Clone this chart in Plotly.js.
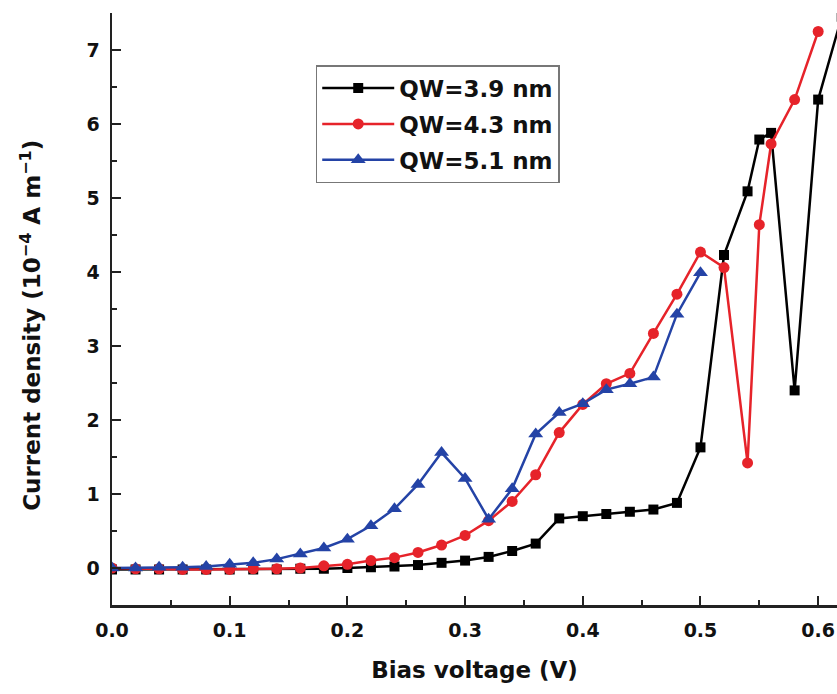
<!DOCTYPE html>
<html>
<head>
<meta charset="utf-8">
<script src="https://cdn.plot.ly/plotly-3.0.1.min.js"></script>
<style>html,body{margin:0;padding:0;background:#fff;}#chart{width:837px;height:694px;}</style>
</head>
<body>
<div id="chart"></div>
<script>
// Bias voltage (V) and current density (10^-4 A m^-1)
const xBlack = [0.00,0.02,0.04,0.06,0.08,0.10,0.12,0.14,0.16,0.18,0.20,0.22,0.24,0.26,0.28,0.30,0.32,0.34,0.36,0.38,0.40,0.42,0.44,0.46,0.48,0.50,0.52,0.54,0.55,0.56,0.58,0.60,0.62];
const yBlack = [-0.02,-0.02,-0.02,-0.02,-0.02,-0.02,-0.02,-0.02,-0.01,-0.01,0.00,0.01,0.02,0.04,0.07,0.10,0.15,0.23,0.33,0.67,0.70,0.73,0.76,0.79,0.88,1.63,4.23,5.09,5.79,5.88,2.40,6.33,7.45];

const xRed = [0.00,0.02,0.04,0.06,0.08,0.10,0.12,0.14,0.16,0.18,0.20,0.22,0.24,0.26,0.28,0.30,0.32,0.34,0.36,0.38,0.40,0.42,0.44,0.46,0.48,0.50,0.52,0.54,0.55,0.56,0.58,0.60];
const yRed = [0.00,-0.01,-0.01,-0.02,-0.02,-0.02,-0.01,-0.01,0.00,0.03,0.05,0.10,0.14,0.21,0.31,0.44,0.64,0.90,1.26,1.83,2.21,2.49,2.63,3.17,3.70,4.27,4.06,1.42,4.64,5.73,6.33,7.25];

const xBlue = [0.00,0.02,0.04,0.06,0.08,0.10,0.12,0.14,0.16,0.18,0.20,0.22,0.24,0.26,0.28,0.30,0.32,0.34,0.36,0.38,0.40,0.42,0.44,0.46,0.48,0.50];
const yBlue = [0.00,0.00,0.01,0.01,0.02,0.05,0.07,0.12,0.19,0.27,0.39,0.57,0.80,1.13,1.56,1.21,0.66,1.07,1.81,2.10,2.22,2.41,2.49,2.58,3.43,3.99];

const seriesNames = ["QW=3.9 nm","QW=4.3 nm","QW=5.1 nm"];
const xTickVals = [0.0,0.1,0.2,0.3,0.4,0.5,0.6];
const xTickText = ["0.0","0.1","0.2","0.3","0.4","0.5","0.6"];
const yTickVals = [0,1,2,3,4,5,6,7];
const yTickText = ["0","1","2","3","4","5","6","7"];

const FONT = "DejaVu Sans, Liberation Sans, Arial, sans-serif";

const traces = [
  {x:xBlack, y:yBlack, name:seriesNames[0], legendgroup:"a", type:"scatter", mode:"lines+markers",
   line:{color:"#000000", width:2.5}, marker:{symbol:"square", size:10, color:"#000000"}},
  {x:xRed, y:yRed, name:seriesNames[1], legendgroup:"b", type:"scatter", mode:"lines+markers",
   line:{color:"#e6232a", width:2.5}, marker:{symbol:"circle", size:11, color:"#e6232a"}},
  {x:xBlue, y:yBlue, name:seriesNames[2], legendgroup:"c", type:"scatter", mode:"lines+markers",
   line:{color:"#2443a6", width:2.5}, marker:{symbol:"triangle-up", size:13, color:"#2443a6"}}
];

const axisCommon = {
  showline:true, linecolor:"#222", linewidth:2.5, mirror:false,
  ticks:"inside", ticklen:9, tickwidth:2, tickcolor:"#222",
  showgrid:false, zeroline:false,
  tickfont:{family:FONT, size:19, color:"#111", weight:"bold"}
};

const layout = {
  width:837, height:694,
  margin:{l:112, r:0, t:13, b:89},
  paper_bgcolor:"#ffffff", plot_bgcolor:"#ffffff",
  showlegend:true,
  xaxis: Object.assign({}, axisCommon, {
    range:[0, 0.616], tickmode:"array", tickvals:xTickVals, ticktext:xTickText,
    ticklabelstandoff:7,
    minor:{ticks:"inside", dtick:0.05, tick0:0, ticklen:5, tickwidth:2, tickcolor:"#222"},
    title:{text:"Bias voltage (V)", font:{family:FONT, size:23, color:"#111", weight:"bold"}, standoff:22}
  }),
  yaxis: Object.assign({}, axisCommon, {
    range:[-0.5, 7.5], tickmode:"array", tickvals:yTickVals, ticktext:yTickText,
    minor:{ticks:"inside", dtick:0.5, tick0:0, ticklen:5, tickwidth:2, tickcolor:"#222"},
    ticklabelstandoff:6
  }),
  annotations:[{
    text:"Current density (10<sup>−4</sup> A m<sup>−1</sup>)",
    xref:"paper", yref:"paper", x:-0.112, y:0.473, xanchor:"center", yanchor:"middle",
    textangle:-90, showarrow:false,
    font:{family:FONT, size:23, color:"#111", weight:"bold"}
  }],
  legend:{
    x:0.281, y:0.912, xanchor:"left", yanchor:"top",
    bgcolor:"#ffffff", bordercolor:"#777", borderwidth:1.5,
    traceorder:"grouped",
    font:{family:FONT, size:23, color:"#111", weight:"bold"},
    itemwidth:72, tracegroupgap:3
  }
};

Plotly.newPlot("chart", traces, layout, {displayModeBar:false, staticPlot:true});
</script>
</body>
</html>
